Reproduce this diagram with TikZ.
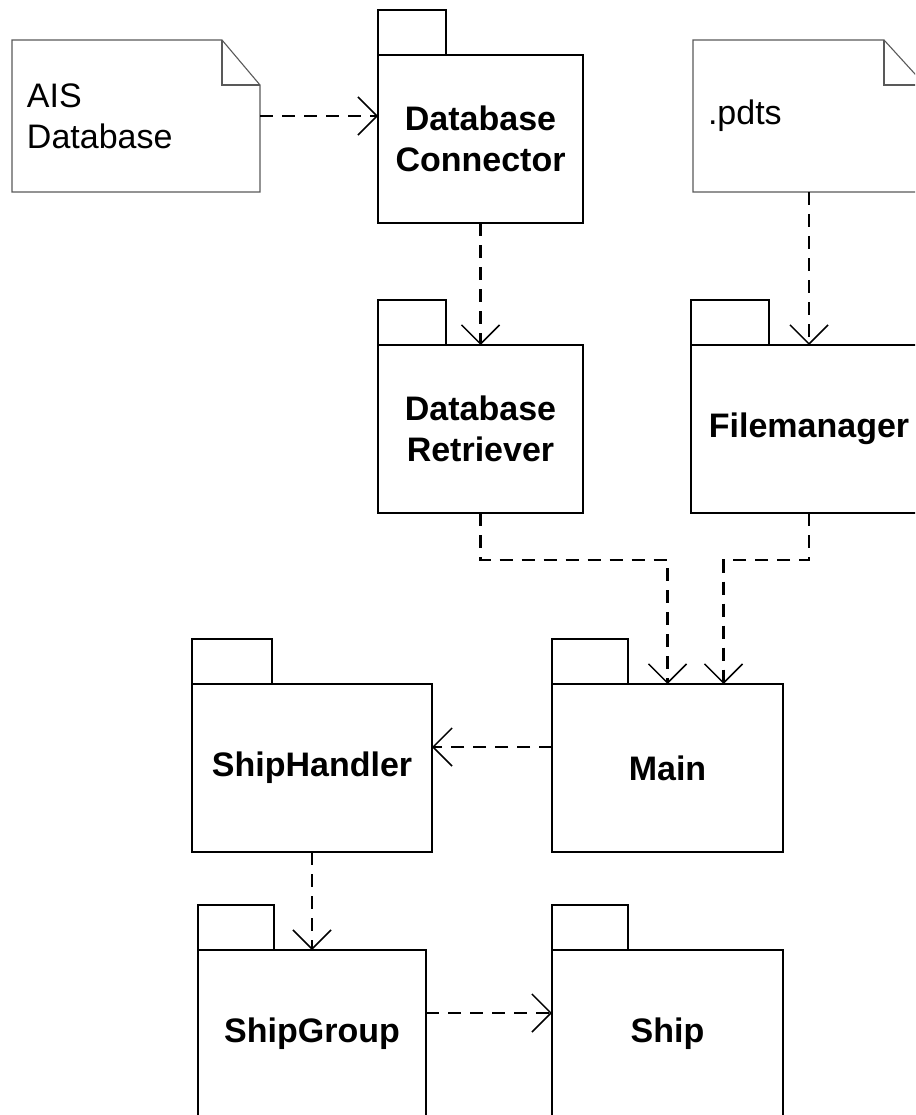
\documentclass[tikz,border=0pt]{standalone}
\usepackage{fontspec}
\setmainfont{Liberation Sans}
\usetikzlibrary{positioning,arrows.meta}

\tikzset{
  pkg/.style={draw, line width=2.4pt, outer sep=0pt, minimum height=168pt, align=center,
    font=\bfseries\fontsize{34}{41}\selectfont},
  tab/.style={draw, line width=2.4pt},
  note/.style={outer sep=0pt, inner xsep=15pt, inner ysep=0pt, minimum height=152pt, align=left,
    font=\fontsize{34}{41}\selectfont},
  noteline/.style={draw=black!65, line width=1.1pt},
  dep/.style={dash pattern=on 13pt off 9pt, line width=2.6pt,
    -{Straight Barb[length=19pt, width=38pt, line width=1.5pt]}},
}

\begin{document}
\begin{tikzpicture}[x=1pt, y=-1pt]
    \clip (0,0) rectangle (915,1115);

    % Nodes

    \node[note, text width=218pt] (ais) at (136,116) {AIS\\Database};
    \node[note, text width=202pt] (pdts) at (809,116) {.pdts};
    \node[pkg, minimum width=205pt] (dbcon) at (480.5,139) {Database\\Connector};
    \node[pkg, minimum width=205pt, below=122pt of dbcon] (dbret) {Database\\Retriever};
    \node[pkg, minimum width=236pt, right=108pt of dbret] (fileman) {Filemanager};
    \node[pkg, minimum width=231pt] (main) at (667.5,768) {Main};
    \node[pkg, minimum width=240pt, left=120pt of main] (shiph) {ShipHandler};
    \node[pkg, minimum width=228pt, below=98pt of shiph] (shipg) {ShipGroup};
    \node[pkg, minimum width=231pt, right=126pt of shipg] (ship) {Ship};

    % Note outlines

    \draw[noteline] (ais.south west) -- (ais.north west) -- ([xshift=-38pt]ais.north east)
        -- ([yshift=-45pt]ais.north east) -- (ais.south east) -- cycle;
    \draw[noteline] ([xshift=-38pt]ais.north east) |- ([yshift=-45pt]ais.north east);
    \draw[noteline] (pdts.south west) -- (pdts.north west) -- ([xshift=-41pt]pdts.north east)
        -- ([yshift=-45pt]pdts.north east) -- (pdts.south east) -- cycle;
    \draw[noteline] ([xshift=-41pt]pdts.north east) |- ([yshift=-45pt]pdts.north east);

    % Package tabs

    \draw[tab] (dbcon.north west) rectangle ++(68,-45);
    \draw[tab] (dbret.north west) rectangle ++(68,-45);
    \draw[tab] (fileman.north west) rectangle ++(78,-45);
    \draw[tab] (main.north west) rectangle ++(76,-45);
    \draw[tab] (shiph.north west) rectangle ++(80,-45);
    \draw[tab] (shipg.north west) rectangle ++(76,-45);
    \draw[tab] (ship.north west) rectangle ++(76,-45);

    % Edges

    \draw[dep] (ais.east) -- (ais.east -| dbcon.west);
    \draw[dep] (dbcon) -- (dbret);
    \draw[dep] (pdts) -- (fileman);
    \draw[dep] (dbret.south) -- ++(0,47) -| (main.north);
    \draw[dep] (fileman.south) -- ++(0,47) -| ([xshift=56pt]main.north);
    \draw[dep] ([yshift=21pt]main.west) -- ([yshift=21pt]shiph.east);
    \draw[dep] (shiph) -- (shipg);
    \draw[dep] ([yshift=21pt]shipg.east) -- ([yshift=21pt]ship.west);

\end{tikzpicture}
\end{document}
